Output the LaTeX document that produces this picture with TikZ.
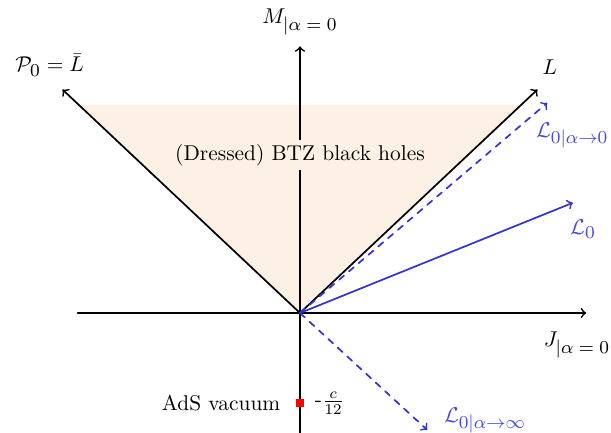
\RequirePackage{fix-cm}
\documentclass[tikz,border=0pt]{standalone}
\usepackage{amsmath}
\usetikzlibrary{positioning}
\definecolor{BTZShade}{HTML}{FDF1E5}
\definecolor{LBlue}{HTML}{3232D6}
\definecolor{LBlueText}{HTML}{4A4AE0}
\newcommand{\lsub}[1]{_{\text{\fontsize{8.5}{10}\selectfont$#1$}}}

\begin{document}
\begin{tikzpicture}[line cap=round,line join=round,>=to]
  \useasboundingbox (-4.926,-1.97) rectangle (5.107,5.14);
  % named ends
  \coordinate (O) at (0,0);
  \coordinate (Jend) at (4.70,0);
  \coordinate (Jstart) at (-3.65,0);
  \coordinate (Mend) at (0,4.38);
  \coordinate (Mstart) at (0,-2.0);
  \coordinate (Lend) at (3.90,3.67);
  \coordinate (Pend) at (-3.90,3.67);
  \coordinate (Lzero) at (4.06,3.45);
  \coordinate (Lfree) at (4.48,1.81);
  \coordinate (Linf) at (2.09,-1.92);
  % black hole region
  \fill[BTZShade] (O) -- (-3.63,3.415) -- (3.63,3.415) -- cycle;
  % axes
  \draw[->,thick] (Jstart) -- (Jend);
  \draw[->,thick] (Mstart) -- (Mend);
  \draw[->,thick] (O) -- (Lend);
  \draw[->,thick] (O) -- (Pend);
  % blue directions
  \draw[->,thick,LBlue,dashed] (O) -- (Lzero);
  \draw[->,thick,LBlue] (O) -- (Lfree);
  \draw[->,thick,LBlue,dashed] (O) -- (Linf);
  % labels
  \node[fill=BTZShade,inner sep=2pt] (btz) at (0,2.594) {(Dressed) BTZ black holes};
  \node (Mlab) at (0,4.78) {$M\lsub{|\alpha=0}$};
  \node (Jlab) at (4.548,-0.525) {$J\lsub{|\alpha=0}$};
  \node (Llab) at (4.105,4.04) {$L$};
  \node (Plab) at (-4.11,4.07) {$\mathcal{P}\lsub{0}=\bar{L}$};
  \node[text=LBlueText] (Lzerolab) at (4.47,2.92) {$\mathcal{L}\lsub{0|\alpha{\to}0}$};
  \node[text=LBlueText] (Lfreelab) at (4.647,1.379) {$\mathcal{L}\lsub{0}$};
  \node[text=LBlueText] (Linflab) at (3.038,-1.77) {$\mathcal{L}\lsub{0|\alpha{\to}\infty}$};
  % vacuum
  \node[fill=red,minimum size=0.13cm,inner sep=0pt] (vac) at (0,-1.478) {};
  \node[left=0.2cm of vac.center,anchor=east] (vaclab) {AdS vacuum};
  \node[anchor=west] (cval) at (0.12,-1.478) {-$\frac{c}{12}$};
\end{tikzpicture}
\end{document}
